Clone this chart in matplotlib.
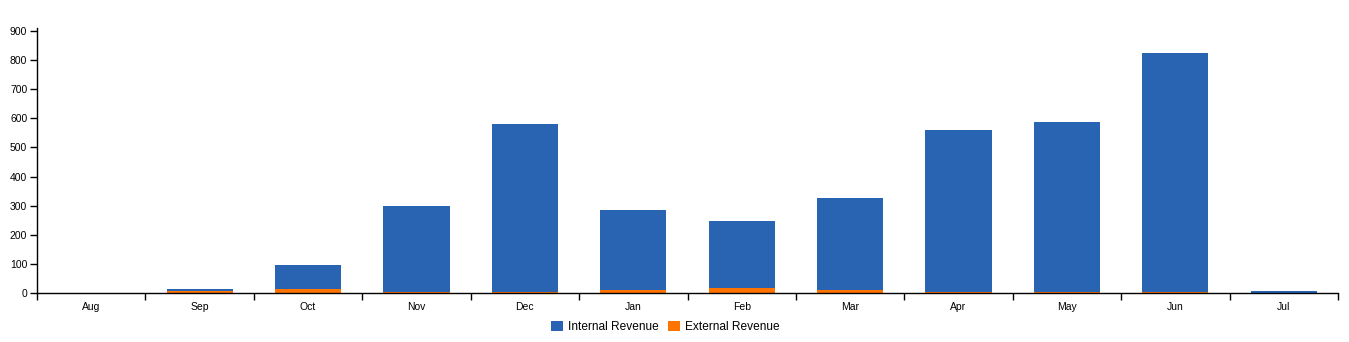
import matplotlib.pyplot as plt
import numpy as np

months = ['Aug', 'Sep', 'Oct', 'Nov', 'Dec', 'Jan', 'Feb', 'Mar', 'Apr', 'May', 'Jun', 'Jul']
external = [0, 6, 14, 3, 3, 10, 17, 10, 3, 5, 3, 0]
internal = [0, 8, 82, 296, 578, 275, 230, 316, 557, 583, 822, 7]

blue = '#2964b2'
orange = '#ff7300'

plt.rcParams['font.family'] = ['Liberation Sans', 'DejaVu Sans']

fig = plt.figure(figsize=(13.49, 3.42), dpi=100)
ax = fig.add_axes([37 / 1349, 49 / 342, 1301 / 1349, 265 / 342])

x = np.arange(len(months)) + 0.5
ax.bar(x, external, width=0.61, color=orange, label='External Revenue')
ax.bar(x, internal, width=0.61, bottom=external, color=blue, label='Internal Revenue')

ax.set_xlim(0, len(months))
ax.set_ylim(0, 910)
ax.set_yticks(range(0, 901, 100))
ax.tick_params(axis='y', labelsize=7.5, length=5, width=1, pad=2)

# tick marks on the band edges, labels in the middle of each band
ax.set_xticks(np.arange(len(months) + 1))
ax.set_xticklabels([])
ax.set_xticks(x, minor=True)
ax.set_xticklabels(months, minor=True)
ax.tick_params(axis='x', which='major', length=5, width=1)
ax.tick_params(axis='x', which='minor', length=0, labelsize=7.5, pad=6.5)

for s in ['top', 'right']:
    ax.spines[s].set_visible(False)
ax.spines['left'].set_linewidth(1)
ax.spines['bottom'].set_linewidth(1)

handles, labels = ax.get_legend_handles_labels()
ax.legend(handles[::-1], labels[::-1], loc='center', bbox_to_anchor=(0.483, -0.128),
          ncol=2, frameon=False, fontsize=8.6, handlelength=0.95, handleheight=0.95,
          handletextpad=0.45, columnspacing=0.8, borderaxespad=0)

fig.savefig('out.png', dpi=100)
